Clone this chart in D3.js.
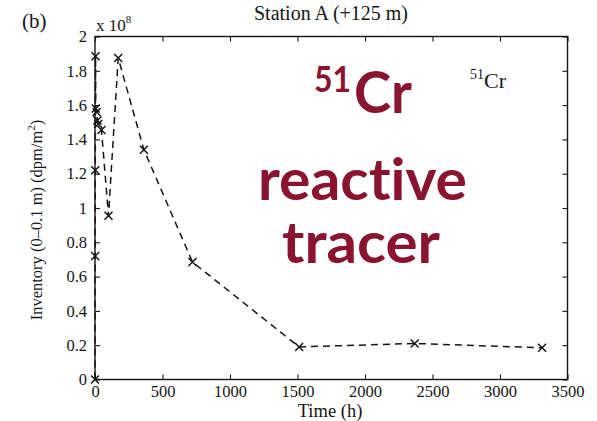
<!DOCTYPE html>
<html><head><meta charset="utf-8">
<script src="https://cdn.jsdelivr.net/npm/d3@7"></script>
<style>body{margin:0;background:#fff}svg{display:block}.big{font-variant-ligatures:none;font-feature-settings:"liga" 0,"dlig" 0}</style>
</head><body>
<svg id="c" width="597" height="421"></svg>
<script>
// Data (time in hours, inventory in 1e8 dpm/m^2)
const times  = [0, 1, 2, 4, 6, 12, 18, 24, 48, 100, 172, 362, 722, 1512, 2368, 3312];
const values = [0, 0.72, 1.22, 1.885, 1.58, 1.56, 1.51, 1.49, 1.455, 0.955, 1.875, 1.34, 0.685, 0.19, 0.21, 0.185];
const xTicks = [0, 500, 1000, 1500, 2000, 2500, 3000, 3500];
const yTicks = [0, 0.2, 0.4, 0.6, 0.8, 1, 1.2, 1.4, 1.6, 1.8, 2];
const bigText = ["reactive", "tracer"];

const svg = d3.select("#c");
const L = 95, R = 567.5, T = 36.5, B = 379.5;
const x = d3.scaleLinear().domain([0, 3500]).range([L, R]);
const y = d3.scaleLinear().domain([0, 2]).range([B, T]);
const serif = "'Liberation Serif','Times New Roman',serif";
const ink = "#151515";

// box
svg.append("rect").attr("x", L).attr("y", T).attr("width", R - L).attr("height", B - T)
  .attr("fill", "none").attr("stroke", ink).attr("stroke-width", 1.4);

// axes
svg.append("g").attr("transform", `translate(0,${B})`)
  .call(d3.axisBottom(x).tickValues(xTicks).tickSize(-5).tickPadding(6).tickFormat(d3.format("d")));
svg.append("g").attr("transform", `translate(${L},0)`)
  .call(d3.axisLeft(y).tickValues(yTicks).tickSize(-5).tickPadding(8).tickFormat(d => d3.format("~g")(d)));
svg.append("g").attr("transform", `translate(0,${T})`)
  .call(d3.axisTop(x).tickValues(xTicks).tickSize(-5).tickFormat(""));
svg.append("g").attr("transform", `translate(${R},0)`)
  .call(d3.axisRight(y).tickValues(yTicks).tickSize(-5).tickFormat(""));
svg.selectAll(".domain").remove();
svg.selectAll(".tick line").attr("stroke", ink).attr("stroke-width", 1.1);
svg.selectAll(".tick text").attr("font-family", serif).attr("font-size", 16.5).attr("fill", ink);

// line
const line = d3.line().x((d, i) => x(times[i])).y(d => y(d));
svg.append("path").datum(values).attr("d", line).attr("fill", "none")
  .attr("stroke", ink).attr("stroke-width", 1.5).attr("stroke-dasharray", "7,5");

// markers
const s = 4;
svg.append("g").selectAll("path").data(values).join("path")
  .attr("d", (d, i) => {
    const cx = x(times[i]), cy = y(d);
    return `M${cx - s},${cy - s}L${cx + s},${cy + s}M${cx - s},${cy + s}L${cx + s},${cy - s}`;
  })
  .attr("stroke", ink).attr("stroke-width", 1.5);

// texts
svg.append("text").attr("x", 22).attr("y", 28).attr("font-family", serif).attr("font-size", 21).attr("fill", ink).text("(b)");
svg.append("text").attr("x", 331).attr("y", 20).attr("text-anchor", "middle")
  .attr("font-family", serif).attr("font-size", 20).attr("fill", ink).text("Station A (+125 m)");
const ex = svg.append("text").attr("x", 96).attr("y", 31).attr("font-family", serif).attr("font-size", 17).attr("fill", ink);
ex.append("tspan").text("x 10");
ex.append("tspan").attr("dy", -8).attr("font-size", 11).text("8");
svg.append("text").attr("x", 330).attr("y", 417).attr("text-anchor", "middle")
  .attr("font-family", serif).attr("font-size", 18.5).attr("fill", ink).text("Time (h)");
svg.append("text").attr("transform", "translate(42,220) rotate(-90)").attr("text-anchor", "middle")
  .attr("font-family", serif).attr("font-size", 16.5).attr("fill", ink)
  .html('Inventory (0–0.1 m) (dpm/m<tspan dy="-7" font-size="11">2</tspan><tspan dy="7">)</tspan>');
const sm = svg.append("text").attr("x", 470).attr("y", 88).attr("font-family", serif).attr("font-size", 22).attr("fill", ink);
sm.append("tspan").attr("dy", -9).attr("font-size", 14).text("51");
sm.append("tspan").attr("dy", 9).text("Cr");

// big overlay text (one multi-line text block)
const red = "#8a1430";
const sans = "Lato,'Open Sans',sans-serif";
const big = svg.append("text").attr("class", "big").attr("fill", red)
  .attr("font-family", sans).attr("font-weight", "bold").attr("font-size", 58);
big.append("tspan").attr("x", 314).attr("y", 92).attr("font-size", 36)
  .attr("textLength", 37).attr("lengthAdjust", "spacingAndGlyphs").text("51");
big.append("tspan").attr("x", 354).attr("y", 113)
  .attr("textLength", 58).attr("lengthAdjust", "spacingAndGlyphs").text("Cr");
big.append("tspan").attr("x", 258).attr("y", 200)
  .attr("textLength", 209).attr("lengthAdjust", "spacingAndGlyphs").text(bigText[0]);
big.append("tspan").attr("x", 282).attr("y", 263)
  .attr("textLength", 158).attr("lengthAdjust", "spacingAndGlyphs").text(bigText[1]);
</script>
</body></html>
